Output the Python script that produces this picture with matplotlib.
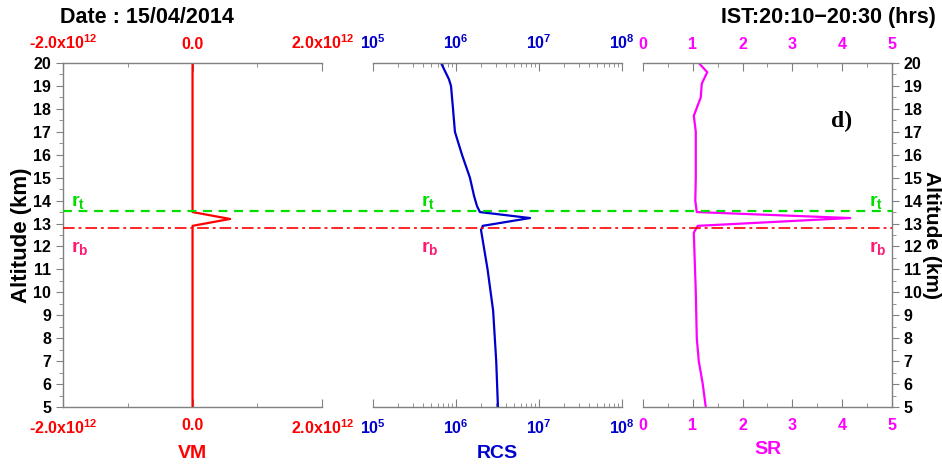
import matplotlib
matplotlib.use('Agg')
import matplotlib.pyplot as plt
from matplotlib.ticker import FixedLocator, MultipleLocator, LogLocator, NullFormatter
import numpy as np

plt.rcParams['font.family'] = ['Liberation Sans', 'DejaVu Sans']
plt.rcParams['font.weight'] = 'bold'
plt.rcParams['mathtext.fontset'] = 'custom'
plt.rcParams['mathtext.bf'] = 'Liberation Sans:bold'
plt.rcParams['mathtext.rm'] = 'Liberation Sans:bold'
plt.rcParams['mathtext.default'] = 'bf'

# altitude profiles (km)
vm_alt = [5, 12.9, 13.2, 13.5, 20]
vm_val = [0, 0, 0.58e12, 0, 0]

rcs_alt = [5, 7, 9.2, 11, 12.72, 12.9, 13.24, 13.5, 13.76, 14.2, 15, 16, 17, 18, 19, 19.3, 20]
rcs_val = [3.2e6, 3.05e6, 2.8e6, 2.4e6, 2.0e6, 2.1e6, 7.8e6, 1.94e6, 1.79e6, 1.65e6, 1.47e6,
           1.18e6, 9.7e5, 9.2e5, 8.7e5, 8.2e5, 6.6e5]

sr_alt = [5, 6, 7, 8, 10, 12.6, 12.9, 13.24, 13.5, 14, 15, 17, 17.7, 18.5, 19.1, 19.6, 20]
sr_val = [1.26, 1.2, 1.12, 1.08, 1.06, 1.02, 1.1, 4.16, 1.08, 1.05, 1.06, 1.06, 1.02, 1.16, 1.18, 1.29, 1.12]

r_top = 13.55
r_bot = 12.8

vm_ticks = [-2e12, 0, 2e12]
vm_labels = [r'-2.0x10$^{12}$', '0.0', r'2.0x10$^{12}$']
rcs_ticks = [1e5, 1e6, 1e7, 1e8]
rcs_labels = [r'10$^{5}$', r'10$^{6}$', r'10$^{7}$', r'10$^{8}$']
sr_ticks = [0, 1, 2, 3, 4, 5]

RED = '#ff0000'
BLUE = '#0000cc'
MAG = '#ff00ff'
GREEN = '#00dd00'
PINK = '#ff1a75'
GREY = '#808080'

fig = plt.figure(figsize=(9.42, 4.66), dpi=100)
bottom, height = 0.1266, 0.7382
ax1 = fig.add_axes([0.0669, bottom, 0.2750, height])
ax2 = fig.add_axes([0.3960, bottom, 0.2643, height])
ax3 = fig.add_axes([0.6826, bottom, 0.2643, height])

ax1.plot(vm_val, vm_alt, color=RED, lw=1.6)
ax2.plot(rcs_val, rcs_alt, color=BLUE, lw=1.6)
ax3.plot(sr_val, sr_alt, color=MAG, lw=1.6)

ax1.set_xlim(-2e12, 2e12)
ax2.set_xscale('log')
ax2.set_xlim(1e5, 1e8)
ax3.set_xlim(0, 5)

for ax, col in [(ax1, RED), (ax2, BLUE), (ax3, MAG)]:
    ax.set_ylim(5, 20)
    for s in ax.spines.values():
        s.set_color(GREY)
        s.set_linewidth(1.0)
    ax.spines['left'].set_visible(False)
    ax.spines['right'].set_visible(False)
    ax.tick_params(axis='x', which='both', direction='in', top=True, bottom=True,
                   labeltop=True, labelbottom=True, colors=GREY, labelcolor=col,
                   labelsize=11.5, pad=8)
    ax.tick_params(axis='x', which='major', length=6)
    ax.tick_params(axis='x', which='minor', length=3)
    ax.tick_params(axis='y', which='both', left=False, right=False, labelleft=False)

ax1.set_xticks(vm_ticks)
ax1.set_xticklabels(vm_labels)
ax1.xaxis.set_minor_locator(FixedLocator([-1e12, 1e12]))
ax2.set_xticks(rcs_ticks)
ax2.set_xticklabels(rcs_labels)
ax2.xaxis.set_minor_locator(LogLocator(base=10, subs=np.arange(2, 10)))
ax2.xaxis.set_minor_formatter(NullFormatter())
ax3.set_xticks(sr_ticks)
ax3.xaxis.set_minor_locator(MultipleLocator(0.5))

# y axes on outer panels
ax1.spines['left'].set_visible(True)
ax1.tick_params(axis='y', which='both', left=True, labelleft=True, direction='out',
                colors=GREY, labelcolor='black', labelsize=11.5)
ax3.spines['right'].set_visible(True)
ax3.tick_params(axis='y', which='both', right=True, labelright=True, direction='out',
                colors=GREY, labelcolor='black', labelsize=11.5)
for ax in (ax1, ax3):
    ax.yaxis.set_major_locator(MultipleLocator(1))
    ax.yaxis.set_minor_locator(MultipleLocator(0.5))
    ax.tick_params(axis='y', which='major', length=5)
    ax.tick_params(axis='y', which='minor', length=3)

ax1.set_ylabel('Altitude (km)', fontsize=16, fontweight='bold', labelpad=1)
ax3.yaxis.set_label_position('right')
ax3.set_ylabel('Altitude (km)', fontsize=15, fontweight='bold', rotation=270, labelpad=14)

ax1.set_xlabel('VM', color=RED, fontsize=14, fontweight='bold', labelpad=6)
ax2.set_xlabel('RCS', color=BLUE, fontsize=14, fontweight='bold', labelpad=6)
ax3.set_xlabel('SR', color=MAG, fontsize=14, fontweight='bold', labelpad=6)

# layer boundaries across all panels
ov = fig.add_axes([0.0669, bottom, 0.6826 + 0.2643 - 0.0669, height])
ov.set_ylim(5, 20)
ov.set_xlim(0, 1)
ov.axis('off')
ov.patch.set_alpha(0)
ov.axhline(r_top, color=GREEN, lw=1.6, ls=(0, (4, 3)))
ov.axhline(r_bot, color=RED, lw=1.4, ls=(0, (6, 2, 1.5, 2)), alpha=0.85)
for xf in (0.010, 0.432, 0.972):
    ov.text(xf, 13.75, r'r$_{t}$', color=GREEN, fontsize=14, fontweight='bold')
    ov.text(xf, 11.75, r'r$_{b}$', color=PINK, fontsize=14, fontweight='bold')

ax3.text(0.755, 0.815, 'd)', transform=ax3.transAxes, fontsize=17, fontweight='bold',
         family=['Liberation Serif', 'DejaVu Serif'])

fig.text(0.064, 0.95, 'Date : 15/04/2014', fontsize=15.5, fontweight='bold')
fig.text(0.993, 0.95, 'IST:20:10\u221220:30 (hrs)', fontsize=15.5, fontweight='bold', ha='right')

fig.savefig('out.png', dpi=100)
